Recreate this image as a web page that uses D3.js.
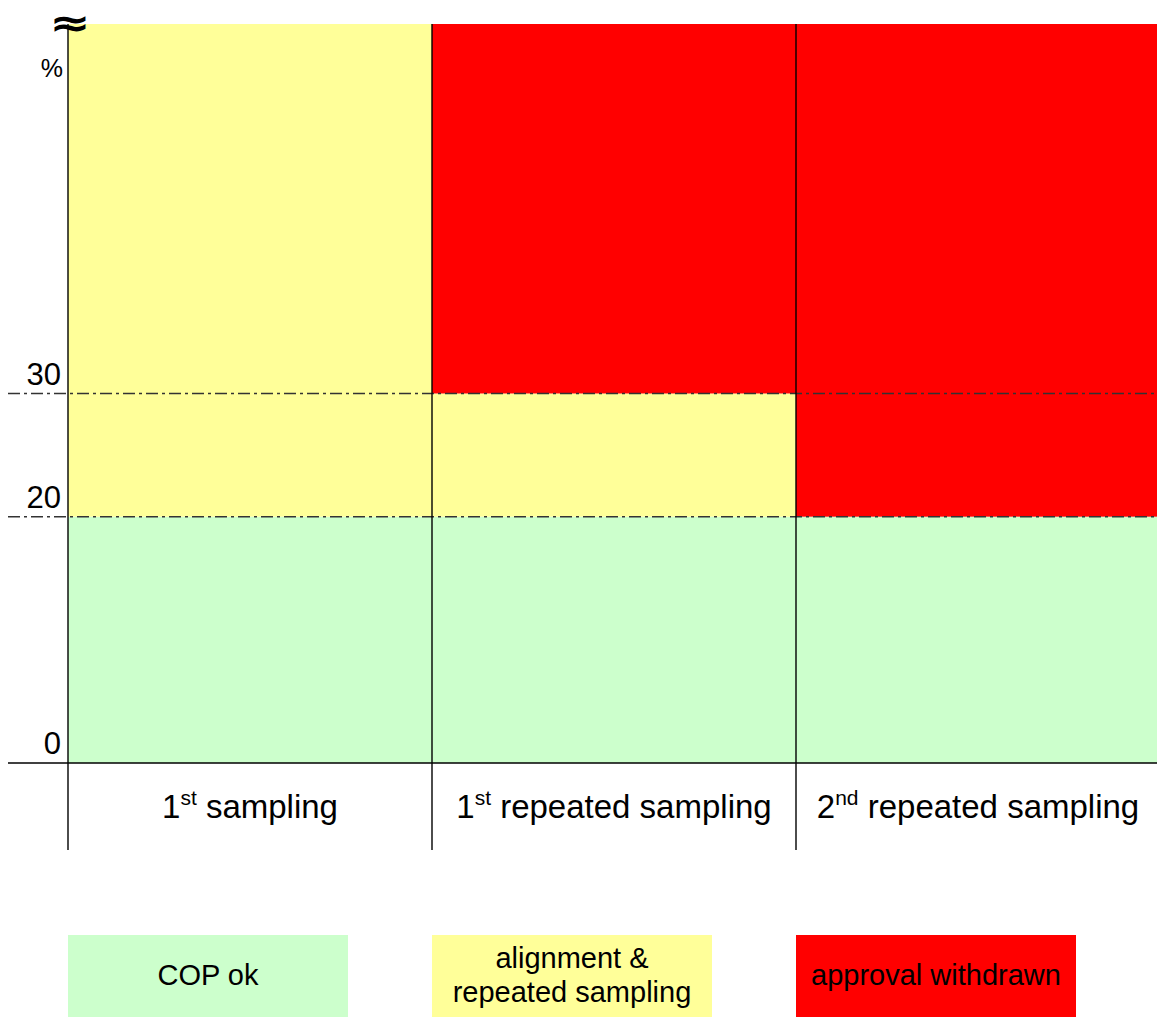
<!DOCTYPE html>
<html>
<head>
<meta charset="utf-8">
<script src="https://cdn.jsdelivr.net/npm/d3@7"></script>
<style>
  html, body { margin: 0; padding: 0; background: #fff; }
  svg text { font-family: "Liberation Sans", Arial, sans-serif; fill: #000; }
</style>
</head>
<body>
<svg id="chart"></svg>
<script>
// categories (number, superscript, rest)
const categories = ["first", "firstRepeated", "secondRepeated"]
const categoryLabels = [
  ["1", "st", " sampling"],
  ["1", "st", " repeated sampling"],
  ["2", "nd", " repeated sampling"],
]
// zone bounds per column, in %
const greenTop = [20, 20, 20]
const yellowTop = [60, 30, 20]
const yMax = 60
// dash-dot threshold lines and tick labels
const thresholds = [20, 30]
const tickValues = [0, 20, 30]
// legend
const legendLabels = [["COP ok"], ["alignment &", "repeated sampling"], ["approval withdrawn"]]
const zoneColors = ["#ccffcc", "#ffff99", "#ff0000"]

const width = 1157
const height = 1017
const svg = d3.select("#chart").attr("width", width).attr("height", height)

const x = d3.scaleBand().domain(categories).range([68, 1160])
const y = d3.scaleLinear().domain([0, yMax]).range([763, 24])

// zone rectangles
categories.forEach((c, i) => {
  const bands = [
    [0, greenTop[i], zoneColors[0]],
    [greenTop[i], yellowTop[i], zoneColors[1]],
    [yellowTop[i], yMax, zoneColors[2]],
  ]
  bands.forEach(([lo, hi, col]) => {
    if (hi <= lo) return
    svg.append("rect")
      .attr("x", x(c))
      .attr("y", y(hi))
      .attr("width", x.bandwidth())
      .attr("height", y(lo) - y(hi))
      .attr("fill", col)
  })
})

// threshold lines
svg.selectAll(".thr")
  .data(thresholds)
  .enter()
  .append("line")
  .attr("x1", 8)
  .attr("x2", width)
  .attr("y1", (d) => y(d))
  .attr("y2", (d) => y(d))
  .attr("stroke", "#333")
  .attr("stroke-width", 1.5)
  .attr("stroke-dasharray", "12,4,3,4")

// column dividers + y axis line
categories.forEach((c) => {
  svg.append("line")
    .attr("x1", x(c)).attr("x2", x(c))
    .attr("y1", y(yMax)).attr("y2", 850)
    .attr("stroke", "#000")
    .attr("stroke-width", 1.4)
})

// zero line
svg.append("line")
  .attr("x1", 8).attr("x2", width)
  .attr("y1", y(0)).attr("y2", y(0))
  .attr("stroke", "#000")
  .attr("stroke-width", 1.4)

// tick labels
svg.selectAll(".tick")
  .data(tickValues)
  .enter()
  .append("text")
  .attr("x", 61)
  .attr("y", (d) => y(d) - 9)
  .attr("text-anchor", "end")
  .style("font-size", "31px")
  .text((d) => d)

svg.append("text")
  .attr("x", 63).attr("y", 77)
  .attr("text-anchor", "end")
  .style("font-size", "25px")
  .text("%")

// axis break mark
svg.append("text")
  .attr("x", 0).attr("y", 36)
  .attr("transform", "translate(70,0) scale(1.3,1)")
  .attr("text-anchor", "middle")
  .style("font-family", "'DejaVu Sans', sans-serif")
  .style("font-size", "38px")
  .style("font-weight", "bold")
  .text("\u2248")

// category labels
categories.forEach((c, i) => {
  const [n, sup, rest] = categoryLabels[i]
  const t = svg.append("text")
    .attr("x", x(c) + x.bandwidth() / 2)
    .attr("y", 818)
    .attr("text-anchor", "middle")
    .style("font-size", "33px")
  t.append("tspan").text(n)
  t.append("tspan").attr("dy", -13).style("font-size", "21px").text(sup)
  t.append("tspan").attr("dy", 13).text(rest)
})

// legend
const legendW = 280
categories.forEach((c, i) => {
  const lx = x(c)
  svg.append("rect")
    .attr("x", lx).attr("y", 935)
    .attr("width", legendW).attr("height", 82)
    .attr("fill", zoneColors[i])
  const lines = legendLabels[i]
  const t = svg.append("text")
    .attr("text-anchor", "middle")
    .style("font-size", "29px")
  lines.forEach((s, k) => {
    t.append("tspan")
      .attr("x", lx + legendW / 2)
      .attr("y", 985 + (k - (lines.length - 1) / 2) * 34)
      .text(s)
  })
})
</script>
</body>
</html>
